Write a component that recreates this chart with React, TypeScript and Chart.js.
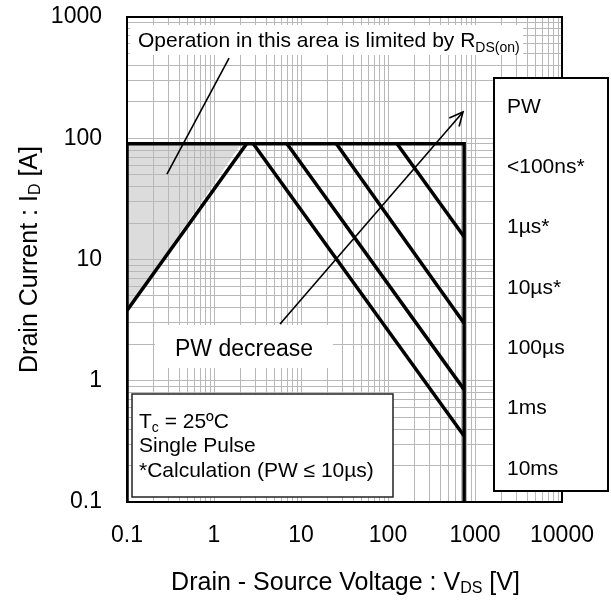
import React, { useEffect, useRef } from 'react';
import { Chart, registerables } from 'chart.js';

Chart.register(...registerables);

const FONT = "'Liberation Sans', Arial, Helvetica, sans-serif";

// Axis ranges and tick labels
const xRange = [0.1, 10000];
const yRange = [0.1, 1000];
const xTickValues = [0.1, 1, 10, 100, 1000, 10000];
const xTickLabels = ['0.1', '1', '10', '100', '1000', '10000'];
const yTickValues = [0.1, 1, 10, 100, 1000];
const yTickLabels = ['0.1', '1', '10', '100', '1000'];

// SOA boundary (<100ns rectangle): V [V], I [A]
const boundaryV = [0.1, 0.1, 750, 750];
const boundaryI = [0.1, 90, 90, 0.1];
// R_DS(on) limit
const rdsV = [0.1, 2.37];
const rdsI = [3.8, 90];
// Pulse-width lines
const pw10usV = [127, 750];
const pw10usI = [90, 15.4];
const pw100usV = [25.5, 750];
const pw100usI = [90, 2.98];
const pw1msV = [6.9, 750];
const pw1msI = [90, 0.845];
const pw10msV = [2.83, 750];
const pw10msI = [90, 0.35];
// Shaded R_DS(on) region
const shadeV = [0.1, 0.1, 2.05];
const shadeI = [3.8, 90, 90];
// Pointer from the R_DS(on) note into the shaded area
const rdsPointerV = [1.49, 0.288];
const rdsPointerI = [459, 50.7];
// "PW decrease" arrow
const pwArrowV = [5.74, 728];
const pwArrowI = [2.94, 164.7];

const pwLabels = ['PW', '<100ns*', '1µs*', '10µs*', '100µs', '1ms', '10ms'];
const noteLines = ['Single Pulse', '*Calculation (PW ≤ 10µs)'];

const toPoints = (xs: number[], ys: number[]) => xs.map((x, i) => ({ x, y: ys[i] }));

const gridValues = (min: number, max: number) => {
  const out: number[] = [];
  for (let e = Math.round(Math.log10(min)); e < Math.round(Math.log10(max)); e++) {
    for (let m = 1; m < 10; m++) out.push(parseFloat((m * Math.pow(10, e)).toPrecision(6)));
  }
  out.push(max);
  return out;
};

const labelFor = (v: number, values: number[], labels: string[]) => {
  const i = values.findIndex((t) => Math.abs(Math.log10(t) - Math.log10(v)) < 1e-6);
  return i >= 0 ? labels[i] : '';
};

type Part = { text: string; sub?: boolean };

function drawRich(
  ctx: CanvasRenderingContext2D,
  parts: Part[],
  x: number,
  y: number,
  size: number,
  subSize: number,
  subDy: number,
  align: 'left' | 'center' = 'left'
) {
  ctx.textAlign = 'left';
  ctx.textBaseline = 'alphabetic';
  const widths = parts.map((p) => {
    ctx.font = `${p.sub ? subSize : size}px ${FONT}`;
    return ctx.measureText(p.text).width;
  });
  const total = widths.reduce((a, b) => a + b, 0);
  let cx = align === 'center' ? x - total / 2 : x;
  parts.forEach((p, i) => {
    ctx.font = `${p.sub ? subSize : size}px ${FONT}`;
    ctx.fillText(p.text, cx, p.sub ? y + subDy : y);
    cx += widths[i];
  });
}

const decorPlugin = {
  id: 'soaDecor',
  beforeDraw(chart: any) {
    const { ctx, chartArea, scales } = chart;
    const xs = scales.x;
    const ys = scales.y;
    ctx.save();
    ctx.beginPath();
    ctx.rect(chartArea.left, chartArea.top, chartArea.right - chartArea.left, chartArea.bottom - chartArea.top);
    ctx.clip();
    ctx.fillStyle = '#dcdcdc';
    ctx.beginPath();
    shadeV.forEach((v, i) => {
      const px = xs.getPixelForValue(v);
      const py = ys.getPixelForValue(shadeI[i]);
      if (i === 0) ctx.moveTo(px, py);
      else ctx.lineTo(px, py);
    });
    ctx.closePath();
    ctx.fill();
    ctx.restore();
  },
  afterDatasetsDraw(chart: any) {
    const { ctx, chartArea, scales } = chart;
    const xs = scales.x;
    const ys = scales.y;
    const L = chartArea.left;
    const T = chartArea.top;
    const R = chartArea.right;
    const B = chartArea.bottom;
    ctx.save();

    // frame
    ctx.strokeStyle = '#000';
    ctx.lineWidth = 2;
    ctx.strokeRect(L, T, R - L, B - T);

    // arrow head
    const x0 = xs.getPixelForValue(pwArrowV[0]);
    const y0 = ys.getPixelForValue(pwArrowI[0]);
    const x1 = xs.getPixelForValue(pwArrowV[1]);
    const y1 = ys.getPixelForValue(pwArrowI[1]);
    const ang = Math.atan2(y1 - y0, x1 - x0);
    const hl = 15;
    const spread = Math.PI / 7;
    ctx.lineWidth = 1.6;
    ctx.beginPath();
    ctx.moveTo(x1 - hl * Math.cos(ang - spread), y1 - hl * Math.sin(ang - spread));
    ctx.lineTo(x1, y1);
    ctx.lineTo(x1 - hl * Math.cos(ang + spread), y1 - hl * Math.sin(ang + spread));
    ctx.stroke();

    // R_DS(on) note
    ctx.fillStyle = '#fff';
    ctx.fillRect(L + 3, T + 8, 393, 30);
    ctx.fillStyle = '#000';
    drawRich(
      ctx,
      [{ text: 'Operation in this area is limited by R' }, { text: 'DS(on)', sub: true }],
      L + 11,
      T + 30,
      21,
      14,
      5
    );

    // PW decrease label
    ctx.fillStyle = '#fff';
    ctx.fillRect(L + 28, T + 308, 178, 43);
    ctx.fillStyle = '#000';
    drawRich(ctx, [{ text: 'PW decrease' }], L + 48, T + 339, 23, 15, 5);

    // condition note box
    ctx.fillStyle = '#fff';
    ctx.fillRect(L + 5, T + 377, 261, 103);
    ctx.strokeStyle = '#222';
    ctx.lineWidth = 1.5;
    ctx.strokeRect(L + 5, T + 377, 261, 103);
    ctx.fillStyle = '#000';
    drawRich(ctx, [{ text: 'T' }, { text: 'c', sub: true }, { text: ' = 25ºC' }], L + 12, T + 411, 21, 14, 4);
    noteLines.forEach((t, i) => drawRich(ctx, [{ text: t }], L + 12, T + 435 + i * 24.5, 21, 14, 4));

    // PW legend box
    ctx.fillStyle = '#fff';
    ctx.fillRect(L + 367, T + 61, 114, 413);
    ctx.strokeStyle = '#000';
    ctx.lineWidth = 2;
    ctx.strokeRect(L + 367, T + 61, 114, 413);
    ctx.fillStyle = '#000';
    ctx.font = `21px ${FONT}`;
    ctx.textAlign = 'left';
    ctx.textBaseline = 'middle';
    pwLabels.forEach((t, i) => ctx.fillText(t, L + 380, T + 90 + i * 60.3));

    // axis titles
    drawRich(
      ctx,
      [{ text: 'Drain - Source Voltage : V' }, { text: 'DS', sub: true }, { text: ' [V]' }],
      (L + R) / 2 + 1,
      590,
      25,
      16,
      3,
      'center'
    );
    ctx.translate(37, (T + B) / 2);
    ctx.rotate(-Math.PI / 2);
    drawRich(
      ctx,
      [{ text: 'Drain Current : I' }, { text: 'D', sub: true }, { text: ' [A]' }],
      0,
      0,
      25,
      16,
      3,
      'center'
    );
    ctx.restore();
  },
};

export default function App() {
  const canvasRef = useRef<HTMLCanvasElement | null>(null);

  useEffect(() => {
    if (!canvasRef.current) return;
    const thick = { showLine: true, borderColor: '#000', borderWidth: 3.5, pointRadius: 0, fill: false };
    const thin = { showLine: true, borderColor: '#000', borderWidth: 1.6, pointRadius: 0, fill: false };
    const chart = new Chart(canvasRef.current, {
      type: 'scatter',
      data: {
        datasets: [
          { label: '<100ns', data: toPoints(boundaryV, boundaryI), ...thick },
          { label: 'RDS(on)', data: toPoints(rdsV, rdsI), ...thick },
          { label: '10µs', data: toPoints(pw10usV, pw10usI), ...thick },
          { label: '100µs', data: toPoints(pw100usV, pw100usI), ...thick },
          { label: '1ms', data: toPoints(pw1msV, pw1msI), ...thick },
          { label: '10ms', data: toPoints(pw10msV, pw10msI), ...thick },
          { label: 'pointer', data: toPoints(rdsPointerV, rdsPointerI), ...thin },
          { label: 'PW decrease', data: toPoints(pwArrowV, pwArrowI), ...thin },
        ] as any,
      },
      options: {
        animation: false,
        responsive: true,
        maintainAspectRatio: false,
        layout: { padding: { top: 17, right: 49, left: 0, bottom: 0 } },
        plugins: { legend: { display: false }, tooltip: { enabled: false } },
        scales: {
          x: {
            type: 'logarithmic',
            min: xRange[0],
            max: xRange[1],
            afterBuildTicks: (s: any) => {
              s.ticks = gridValues(xRange[0], xRange[1]).map((v) => ({ value: v }));
            },
            afterFit: (s: any) => {
              s.height = 99;
              s.paddingLeft = 0;
              s.paddingRight = 0;
            },
            ticks: {
              autoSkip: false,
              maxRotation: 0,
              minRotation: 0,
              padding: 20,
              color: '#000',
              font: { family: FONT, size: 23 },
              callback: (v: any) => labelFor(Number(v), xTickValues, xTickLabels),
            },
            grid: { color: '#b8b8b8', lineWidth: 1, drawTicks: false },
            border: { display: false },
          },
          y: {
            type: 'logarithmic',
            min: yRange[0],
            max: yRange[1],
            afterBuildTicks: (s: any) => {
              s.ticks = gridValues(yRange[0], yRange[1]).map((v) => ({ value: v }));
            },
            afterFit: (s: any) => {
              s.width = 127;
              s.paddingTop = 0;
              s.paddingBottom = 0;
            },
            ticks: {
              autoSkip: false,
              padding: 25,
              color: '#000',
              font: { family: FONT, size: 23 },
              callback: (v: any) => labelFor(Number(v), yTickValues, yTickLabels),
            },
            grid: { color: '#b8b8b8', lineWidth: 1, drawTicks: false },
            border: { display: false },
          },
        },
      } as any,
      plugins: [decorPlugin],
    });
    return () => chart.destroy();
  }, []);

  return (
    <div style={{ position: 'fixed', left: 0, top: 0, width: 611, height: 601, background: '#fff' }}>
      <canvas ref={canvasRef} />
    </div>
  );
}
